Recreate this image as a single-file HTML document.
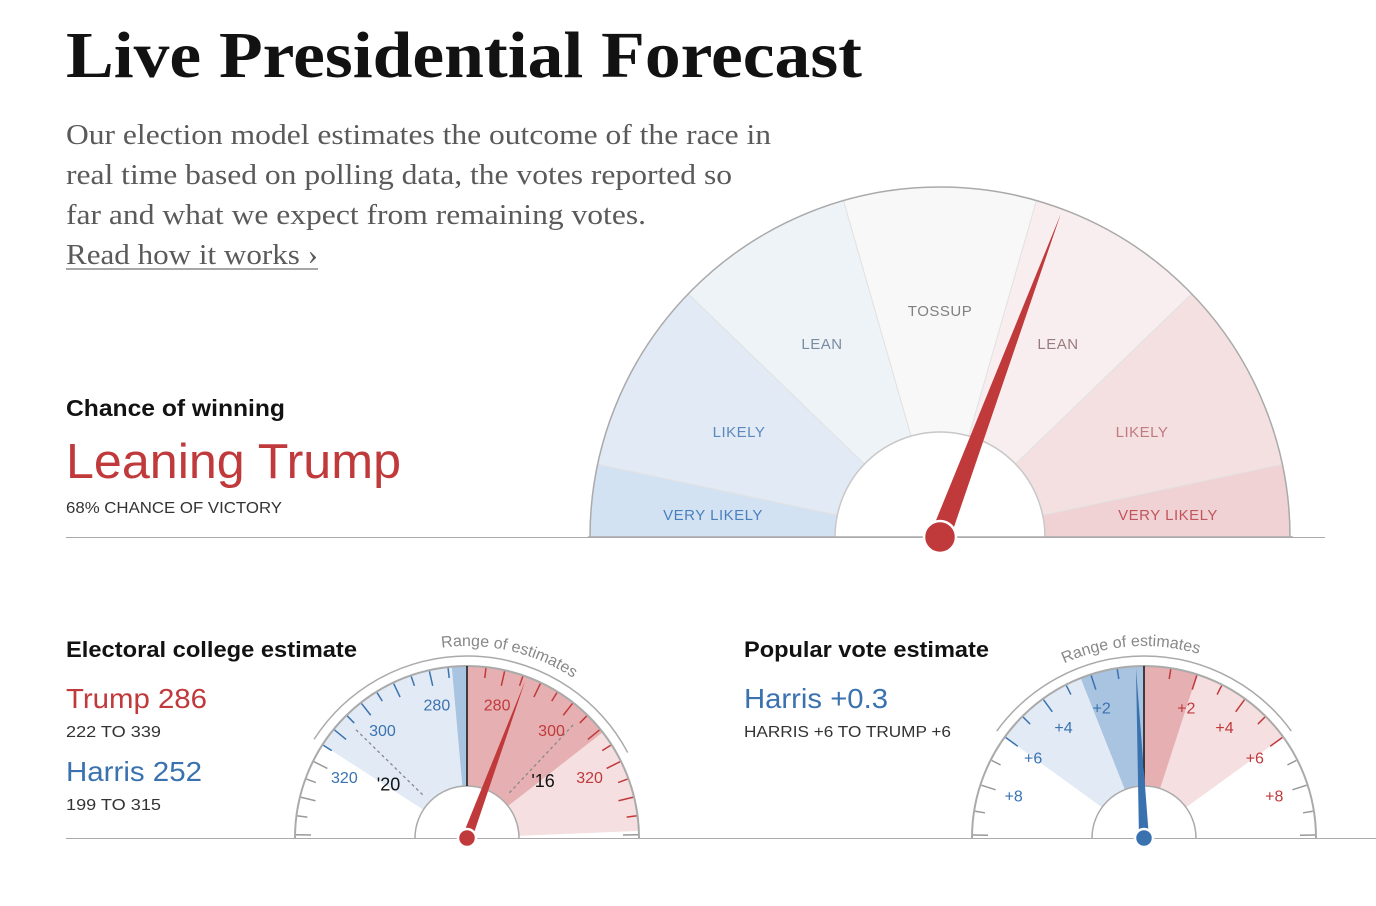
<!DOCTYPE html>
<html><head><meta charset="utf-8"><style>
html,body{margin:0;padding:0;background:#fff;}
svg{display:block;}
</style></head><body>
<svg id="chart" width="1376" height="906" viewBox="0 0 1376 906" xmlns="http://www.w3.org/2000/svg">
<text x="66" y="77" font-family="Liberation Serif, serif" font-weight="bold" font-size="66" fill="#121212" textLength="796" lengthAdjust="spacingAndGlyphs">Live Presidential Forecast</text>
<g font-family="Liberation Serif, serif" font-size="29" fill="#5a5a5a">
<text x="66" y="144" textLength="705" lengthAdjust="spacingAndGlyphs">Our election model estimates the outcome of the race in</text>
<text x="66" y="184" textLength="666" lengthAdjust="spacingAndGlyphs">real time based on polling data, the votes reported so</text>
<text x="66" y="224" textLength="580" lengthAdjust="spacingAndGlyphs">far and what we expect from remaining votes.</text>
</g>
<text x="66" y="264" font-family="Liberation Serif, serif" font-size="29" fill="#5a5a5a" textLength="252" lengthAdjust="spacingAndGlyphs">Read how it works ›</text>
<line x1="66" y1="269" x2="318" y2="269" stroke="#8a8a8a" stroke-width="1.5"/>
<text x="66" y="416" font-family="Liberation Sans, sans-serif" font-weight="bold" font-size="23" fill="#121212" textLength="219" lengthAdjust="spacingAndGlyphs">Chance of winning</text>
<text x="66" y="478" font-family="Liberation Sans, sans-serif" font-size="49" fill="#c0393b" textLength="335" lengthAdjust="spacingAndGlyphs">Leaning Trump</text>
<text x="66" y="513" font-family="Liberation Sans, sans-serif" font-size="16" fill="#333" textLength="216" lengthAdjust="spacingAndGlyphs">68% CHANCE OF VICTORY</text>
<line x1="66" y1="537.5" x2="1325" y2="537.5" stroke="#aaa" stroke-width="1"/>
<g id="big"></g>

<text x="66" y="657" font-family="Liberation Sans, sans-serif" font-weight="bold" font-size="22" fill="#121212" textLength="291" lengthAdjust="spacingAndGlyphs">Electoral college estimate</text>
<text x="66" y="708" font-family="Liberation Sans, sans-serif" font-size="28" fill="#c0393b" textLength="141" lengthAdjust="spacingAndGlyphs">Trump 286</text>
<text x="66" y="737" font-family="Liberation Sans, sans-serif" font-size="16" fill="#333" textLength="95" lengthAdjust="spacingAndGlyphs">222 TO 339</text>
<text x="66" y="781" font-family="Liberation Sans, sans-serif" font-size="28" fill="#3a72b0" textLength="136" lengthAdjust="spacingAndGlyphs">Harris 252</text>
<text x="66" y="810" font-family="Liberation Sans, sans-serif" font-size="16" fill="#333" textLength="95" lengthAdjust="spacingAndGlyphs">199 TO 315</text>
<text x="744" y="657" font-family="Liberation Sans, sans-serif" font-weight="bold" font-size="22" fill="#121212" textLength="245" lengthAdjust="spacingAndGlyphs">Popular vote estimate</text>
<text x="744" y="708" font-family="Liberation Sans, sans-serif" font-size="28" fill="#3a72b0" textLength="144" lengthAdjust="spacingAndGlyphs">Harris +0.3</text>
<text x="744" y="737" font-family="Liberation Sans, sans-serif" font-size="16" fill="#333" textLength="207" lengthAdjust="spacingAndGlyphs">HARRIS +6 TO TRUMP +6</text>
<line x1="66" y1="838.5" x2="1376" y2="838.5" stroke="#aaa" stroke-width="1"/>
<g id="ec"></g>
<g id="pv"></g>
</svg>
<script>
// ---- Win probability gauge data ----
const bigLabels = ["VERY LIKELY","LIKELY","LEAN","TOSSUP","LEAN","LIKELY","VERY LIKELY"];
const bigBreaks = [0,0.03,0.15,0.35,0.65,0.85,0.97,1];
const bigAngles = [0,12,44,74,106,136,168,180];
const bigFills = ["#d3e2f2","#e1eaf5","#eef3f8","#f8f8f8","#f9eeef","#f4e0e1","#f1d2d4"];
const bigText = ["#4a7fbe","#5b88bd","#7b8ba0","#808080","#9a7b7e","#c07a80","#c0555c"];
const trumpProb = 0.68;
// ---- Electoral college data ----
const ecTicks = [280,300,320];
const ecTrump = 286, ecTrumpLo = 222, ecTrumpHi = 339;
const ecHarris = 252, ecHarrisHi = 315;
const ecDarkRed = 311, ecDarkBlue = 274;
const ec2020 = 306, ec2016 = 304;
// ---- Popular vote data ----
const pvTicks = [2,4,6,8];
const pvHarrisMargin = 0.3;
const pvHarrisHi = 6, pvTrumpHi = 6;
const pvDarkBlue = 2.4, pvDarkRed = 2.0;

const NS="http://www.w3.org/2000/svg";
function mk(parent,tag,attrs){const e=document.createElementNS(NS,tag);for(const k in attrs)e.setAttribute(k,attrs[k]);parent.appendChild(e);return e;}
function P(cx,cy,r,th){const a=th*Math.PI/180;return [cx+r*Math.sin(a),cy-r*Math.cos(a)];}
function wedge(cx,cy,r0,r1,t0,t1){const a=P(cx,cy,r1,t0),b=P(cx,cy,r1,t1),c=P(cx,cy,r0,t1),d=P(cx,cy,r0,t0);const lg=Math.abs(t1-t0)>180?1:0;const sw=t1>t0?1:0;
return `M${a[0]},${a[1]} A${r1},${r1} 0 ${lg} ${sw} ${b[0]},${b[1]} L${c[0]},${c[1]} A${r0},${r0} 0 ${lg} ${1-sw} ${d[0]},${d[1]} Z`;}
function needle(g,cx,cy,r,th,w,color,dot,name){const t=P(cx,cy,r,th);const a=(th+90)*Math.PI/180;
const l=[cx+w*Math.sin(a),cy-w*Math.cos(a)],rr=[cx-w*Math.sin(a),cy+w*Math.cos(a)];
const n=mk(g,"path",{d:`M${l[0]},${l[1]} L${t[0]},${t[1]} L${rr[0]},${rr[1]} Z`,fill:color});


const c=mk(g,"circle",{cx:cx,cy:cy,r:dot,fill:color,stroke:"#fff","stroke-width":2.5});

}

// Big gauge
(function(){
const g=document.getElementById("big");const cx=940,cy=537,R=350,r0=105;
function ang(p){for(let i=0;i<bigBreaks.length-1;i++){if(p<=bigBreaks[i+1]){const f=(p-bigBreaks[i])/(bigBreaks[i+1]-bigBreaks[i]);return bigAngles[i]+f*(bigAngles[i+1]-bigAngles[i]);}}return 180;}
for(let i=0;i<bigLabels.length;i++){
 const t0=bigAngles[i]-90,t1=bigAngles[i+1]-90;
 const s=mk(g,"path",{d:wedge(cx,cy,r0,R,t0,t1),fill:bigFills[i],stroke:"#e2e2e2","stroke-width":1});
 
 
}
const lblPos=[[713,515],[739,432],[822,344],[940,311],[1058,344],[1142,432],[1168,515]];
for(let i=0;i<bigLabels.length;i++){
 const t=mk(g,"text",{x:lblPos[i][0],y:lblPos[i][1]+5,"text-anchor":"middle","font-family":"Liberation Sans, sans-serif","font-size":15,fill:bigText[i],"letter-spacing":"0.5"});
 t.textContent=bigLabels[i];
 
 
}
const a=P(cx,cy,R,-90),b=P(cx,cy,R,90);
mk(g,"path",{d:`M${a[0]},${a[1]} A${R},${R} 0 0 1 ${b[0]},${b[1]}`,fill:"none",stroke:"#aaa","stroke-width":1.5});
mk(g,"path",{d:`M${cx-r0},${cy} A${r0},${r0} 0 0 1 ${cx+r0},${cy}`,fill:"#fff",stroke:"#c8c8c8","stroke-width":1.5});
mk(g,"line",{x1:588,y1:cy,x2:1293,y2:cy,stroke:"#aaa","stroke-width":1.5});
needle(g,cx,cy,345,ang(trumpProb)-90,10,"#c0393b",16,"win-needle");
})();

function gauge(gid,cx,cy,toDeg,opts){
 const g=document.getElementById(gid);const R=172,r0=52;
 // white base
 mk(g,"path",{d:wedge(cx,cy,r0,R,-90,90),fill:"#fff"});
 opts.regions.forEach((rg,i)=>{const s=mk(g,"path",{d:wedge(cx,cy,r0,R,rg[0],rg[1]),fill:rg[2]});
  
  });
 // ticks
 opts.ticks.forEach(tk=>{const th=tk[0];const p1=P(cx,cy,R-1,th),p2=P(cx,cy,R-(tk[2]?16:11),th);
  const l=mk(g,"line",{x1:p1[0],y1:p1[1],x2:p2[0],y2:p2[1],stroke:tk[1],"stroke-width":1.5});
  
  });
 // labels
 opts.labels.forEach(lb=>{const p=P(cx,cy,137,lb[0]);const t=mk(g,"text",{x:p[0],y:p[1]+6,"text-anchor":"middle","font-family":"Liberation Sans, sans-serif","font-size":16,fill:lb[2]});
  t.textContent=lb[1];
  
  });
 (opts.extra||(()=>{}))(g,cx,cy,R,r0);
 const a=P(cx,cy,R,-90),b=P(cx,cy,R,90);
 mk(g,"path",{d:`M${a[0]},${a[1]} A${R},${R} 0 0 1 ${b[0]},${b[1]}`,fill:"none",stroke:"#aaa","stroke-width":2});
 mk(g,"path",{d:`M${cx-r0},${cy} A${r0},${r0} 0 0 1 ${cx+r0},${cy}`,fill:"#fff",stroke:"#aaa","stroke-width":1.5});
 mk(g,"line",{x1:cx,y1:cy-r0,x2:cx,y2:cy-R,stroke:"#111","stroke-width":1.5});
 // range arc + text
 const R2=182,s=P(cx,cy,R2,opts.arc[0]),e=P(cx,cy,R2,opts.arc[1]);
 const arc=mk(g,"path",{d:`M${s[0]},${s[1]} A${R2},${R2} 0 0 1 ${e[0]},${e[1]}`,fill:"none",stroke:"#aaa","stroke-width":1.5});
 
 
 const tp0=P(cx,cy,192,-90),tp1=P(cx,cy,192,90);
 mk(g,"path",{id:gid+"-tp",d:`M${tp0[0]},${tp0[1]} A192,192 0 0 1 ${tp1[0]},${tp1[1]}`,fill:"none"});
 const tx=mk(g,"text",{"font-family":"Liberation Sans, sans-serif","font-size":16,fill:"#888"});
 
 
 const tpe=mk(tx,"textPath",{href:"#"+gid+"-tp",startOffset:(50+opts.textTheta/180*100)+"%","text-anchor":"middle"});
 tpe.textContent="Range of estimates";
 needle(g,cx,cy,opts.needleR,opts.needle,5,opts.needleColor,9,gid+"-needle");
}

// Electoral gauge: degrees per electoral vote from 270
const ecScale=1.27;
function ecDeg(ev,side){return side*(ev-270)*ecScale;}
(function(){
 const ticks=[];
 for(let ev=270;ev<=340;ev+=5){[-1,1].forEach(sd=>{if(ev===270)return;
  const hi=sd<0?ecHarrisHi:ecTrumpHi;const col=ev<=hi?(sd<0?"#3a72b0":"#c0393b"):"#999";
  ticks.push([Math.max(-89,Math.min(89,ecDeg(ev,sd))),col,ev%10===0]);});}
 gauge("ec",467,838,null,{
  regions:[[ecDeg(ecHarrisHi,-1),0,"#e2ebf5"],[ecDeg(ecDarkBlue,-1),0,"#a9c4e0"],[0,Math.min(90,ecDeg(ecTrumpHi,1)),"#f5dfe0"],[0,ecDeg(ecDarkRed,1),"#e6b0b2"]],
  ticks:ticks,
  labels:ecTicks.map(v=>[ecDeg(v,-1),String(v),"#3a72b0"]).concat(ecTicks.map(v=>[ecDeg(v,1),String(v),"#c0393b"])),
  arc:[ecDeg(ecHarrisHi,-1),Math.min(62,ecDeg(ecTrumpHi,1))],
  textTheta:13,needle:ecDeg(ecTrump,1),needleR:168,needleColor:"#c0393b",
  extra:(g,cx,cy,R,r0)=>{
   [[ec2020,-1,"'20","dash-2020"],[ec2016,1,"'16","dash-2016"]].forEach(d=>{const th=ecDeg(d[0],d[1]);const a=P(cx,cy,r0+10,th),b=P(cx,cy,R-14,th);
    const l=mk(g,"line",{x1:a[0],y1:a[1],x2:b[0],y2:b[1],stroke:"#888","stroke-width":1.3,"stroke-dasharray":"3,3"});
    
    
    const p=P(cx,cy,95,th+d[1]*10);const t=mk(g,"text",{x:p[0],y:p[1]+6,"text-anchor":"middle","font-family":"Liberation Sans, sans-serif","font-size":18,fill:"#111"});
    t.textContent=d[2];
    
    });
  }});
})();

// Popular vote gauge: 9 degrees per point
const pvScale=9;
function pvDeg(m){return m*pvScale;}
(function(){
 const ticks=[];
 for(let m=1;m<=10;m++){[-1,1].forEach(sd=>{const hi=sd<0?pvHarrisHi:pvTrumpHi;const col=m<=hi?(sd<0?"#3a72b0":"#c0393b"):"#999";
  ticks.push([Math.max(-89,Math.min(89,pvDeg(sd*m))),col,m%2===0]);});}
 gauge("pv",1144,838,null,{
  regions:[[pvDeg(-pvHarrisHi),0,"#e2ebf5"],[pvDeg(-pvDarkBlue),0,"#a9c4e0"],[0,pvDeg(pvTrumpHi),"#f5dfe0"],[0,pvDeg(pvDarkRed),"#e6b0b2"]],
  ticks:ticks,
  labels:pvTicks.map(v=>[pvDeg(-v),"+"+v,"#3a72b0"]).concat(pvTicks.map(v=>[pvDeg(v),"+"+v,"#c0393b"])),
  arc:[pvDeg(-pvHarrisHi),pvDeg(pvTrumpHi)],
  textTheta:-4,needle:pvDeg(-pvHarrisMargin),needleR:170,needleColor:"#3a72b0"});
})();
</script>
</body></html>
